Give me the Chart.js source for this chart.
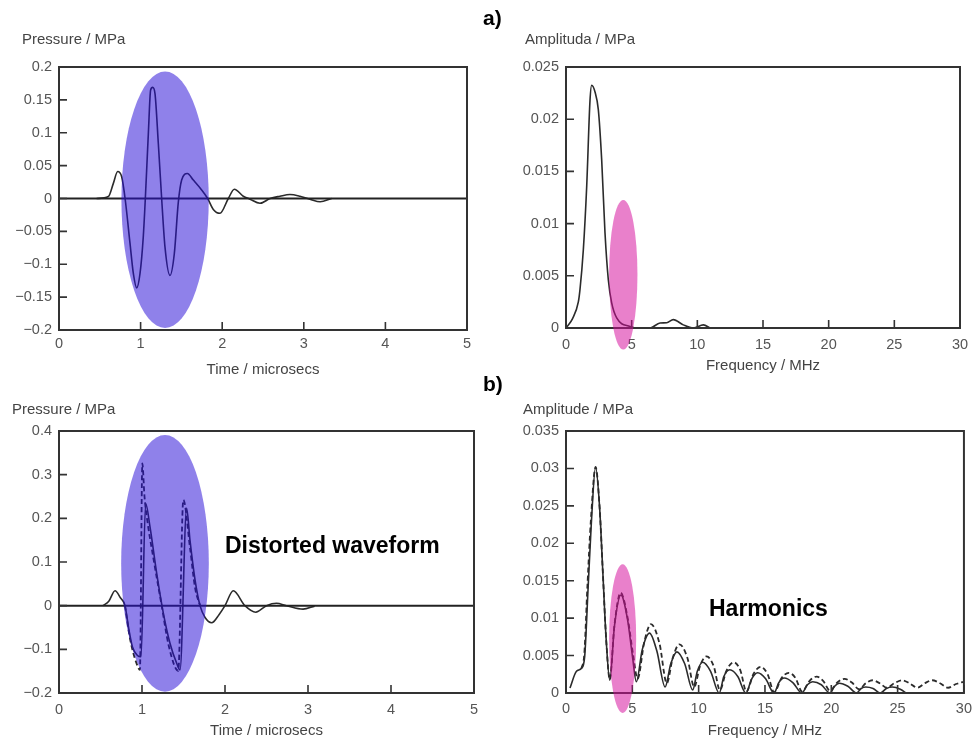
<!DOCTYPE html>
<html>
<head>
<meta charset="utf-8">
<script src="https://cdn.jsdelivr.net/npm/chart.js@4.4.0/dist/chart.umd.min.js"></script>
<style>
  body { margin: 0; background: #fff; width: 979px; height: 744px; position: relative; overflow: hidden;
         font-family: "Liberation Sans", Arial, sans-serif; }
  .panel { position: absolute; }
  .lbl { position: absolute; white-space: nowrap; line-height: 1; }
  .axis-title { font-size: 15px; color: #444; }
  .tag { font-size: 21px; font-weight: bold; color: #000; }
  .note { font-size: 23px; font-weight: bold; color: #000; }
</style>
</head>
<body>

<div class="panel" style="left:0;top:0"><canvas id="TimeA" width="490" height="380"></canvas></div>
<div class="panel" style="left:490px;top:0"><canvas id="FreqA" width="489" height="380"></canvas></div>
<div class="panel" style="left:0;top:380px"><canvas id="TimeB" width="490" height="364"></canvas></div>
<div class="panel" style="left:490px;top:380px"><canvas id="FreqB" width="489" height="364"></canvas></div>

<div class="lbl tag" style="left:483px;top:7px">a)</div>
<div class="lbl tag" style="left:483px;top:373px">b)</div>
<div class="lbl axis-title" style="left:22px;top:31px">Pressure / MPa</div>
<div class="lbl axis-title" style="left:525px;top:31px">Amplituda / MPa</div>
<div class="lbl axis-title" style="left:12px;top:401px">Pressure / MPa</div>
<div class="lbl axis-title" style="left:523px;top:401px">Amplitude / MPa</div>
<div class="lbl note" style="left:225px;top:534px">Distorted waveform</div>
<div class="lbl note" style="left:709px;top:597px">Harmonics</div>

<script>
//
//
// Data - a) linear pulse
var timeA     = [0.46, 0.605, 0.666, 0.719, 0.768, 0.81, 0.87, 0.911, 0.952, 0.993, 1.033, 1.058, 1.095, 1.123, 1.148, 1.176, 1.217, 1.258, 1.299, 1.36, 1.413, 1.462, 1.503, 1.573, 1.646, 1.748, 1.822, 1.891, 1.973, 2.075, 2.149, 2.258, 2.34, 2.463, 2.586, 2.708, 2.83, 2.953, 3.076, 3.2, 3.341];
var pressureA = [0, 0.003, 0.023, 0.041, 0.033, 0, -0.068, -0.114, -0.136, -0.114, -0.058, 0, 0.099, 0.165, 0.169, 0.16, 0.084, 0, -0.074, -0.117, -0.084, -0.006, 0.028, 0.038, 0.028, 0.013, 0, -0.0166, -0.0225, 0, 0.014, 0.0035, -0.001, -0.0073, 0, 0.0035, 0.006, 0.0035, -0.001, -0.005, 0];

var freqA      = [0, 0.5, 0.94, 1.066, 1.32, 1.574, 1.828, 1.955, 2.21, 2.463, 2.717, 2.97, 3.224, 3.478, 3.86, 4.87, 5.6, 6.4, 7.16, 7.67, 8.17, 8.93, 9.7, 10.46, 10.97];
var amplitudeA = [0, 0.0009, 0.0025, 0.0037, 0.0075, 0.0135, 0.0218, 0.02325, 0.0226, 0.0209, 0.0161, 0.0091, 0.0046, 0.0024, 0.00096, 0.00015, 0, 0, 0.00048, 0.0005, 0.0008, 0.0003, 0, 0.0003, 0];

//
//
// Data - b) distorted pulse
var timeB     = [0.53, 0.6, 0.675, 0.74, 0.795, 0.843, 0.884, 0.945, 0.988, 1.044, 1.096, 1.177, 1.257, 1.337, 1.418, 1.458, 1.538, 1.578, 1.639, 1.699, 1.76, 1.84, 1.93, 2.0, 2.1, 2.24, 2.37, 2.5, 2.62, 2.74, 2.94, 3.08];
var pressureB = [0, 0.01, 0.034, 0.018, 0, -0.056, -0.094, -0.114, -0.117, 0.234, 0.181, 0.074, -0.017, -0.086, -0.132, -0.147, 0.223, 0.15, 0.059, 0, -0.027, -0.039, -0.02, 0, 0.034, 0, -0.015, 0, 0.0055, 0, -0.008, -0.001];

var timeBDashed     = [0.795, 0.86, 0.95, 0.975, 1.004, 1.03, 1.06, 1.136, 1.237, 1.32, 1.437, 1.498, 1.58, 1.64, 1.70];
var pressureBDashed = [0, -0.08, -0.14, -0.147, 0.326, 0.25, 0.2, 0.11, 0, -0.09, -0.149, 0.242, 0.13, 0.04, 0];

var freqB      = [0.3, 0.79, 1.17, 1.41, 1.66, 1.91, 2.23, 2.53, 2.78, 3.03, 3.3, 3.65, 4.14, 4.64, 5.01, 5.3, 5.75, 6.3, 6.85, 7.47, 7.9, 8.36, 8.95, 9.55, 9.9, 10.3, 10.9, 11.55, 11.9, 12.35, 12.95, 13.56, 14.0, 14.45, 15.05, 15.68, 16.05, 16.45, 17.1, 17.78, 18.2, 18.6, 19.25, 19.9, 20.25, 20.6, 21.25, 21.9, 22.25, 22.6, 23.15, 23.7, 24.15, 24.6, 25.2, 25.7];
var amplitudeB = [0.00067, 0.0029, 0.0033, 0.0049, 0.0138, 0.0227, 0.0302, 0.0249, 0.016, 0.0071, 0.0017, 0.0089, 0.0131, 0.0098, 0.0049, 0.0015, 0.0058, 0.008, 0.0056, 0.0008, 0.0039, 0.0055, 0.0039, 0.0004, 0.0029, 0.0041, 0.0029, 0, 0.0022, 0.0031, 0.0022, 0, 0.0019, 0.0027, 0.0019, 0, 0.0014, 0.002, 0.0014, 0, 0.0011, 0.0015, 0.0011, 0, 0.0009, 0.0013, 0.0009, 0, 0.0006, 0.0008, 0.0006, 0, 0.0006, 0.0008, 0.0005, -0.0001];

var freqBDashed      = [1.17, 1.38, 1.62, 1.88, 2.23, 2.53, 2.78, 3.03, 3.3, 3.65, 4.12, 4.64, 5.05, 5.4, 5.9, 6.4, 7.05, 7.6, 8.05, 8.55, 9.15, 9.67, 10.1, 10.6, 11.15, 11.6, 12.1, 12.65, 13.15, 13.6, 14.15, 14.68, 15.2, 15.7, 16.25, 16.8, 17.3, 17.8, 18.35, 18.9, 19.4, 19.9, 20.45, 21.0, 21.55, 22.1, 22.6, 23.1, 23.65, 24.2, 24.75, 25.35, 25.9, 26.5, 27.05, 27.6, 28.2, 28.8, 29.4, 30];
var amplitudeBDashed = [0.0033, 0.0052, 0.0145, 0.0232, 0.0302, 0.0249, 0.016, 0.0071, 0.0018, 0.009, 0.0134, 0.0101, 0.0052, 0.0019, 0.0068, 0.0092, 0.0066, 0.0013, 0.0047, 0.0065, 0.0047, 0.0008, 0.0036, 0.0049, 0.0035, 0.0004, 0.003, 0.0041, 0.003, 0.0002, 0.0026, 0.0035, 0.0025, 0.0001, 0.002, 0.0027, 0.002, 0.0002, 0.0016, 0.0022, 0.0016, 0.0003, 0.0014, 0.0019, 0.0014, 0.0005, 0.0013, 0.0017, 0.0013, 0.0007, 0.0013, 0.0017, 0.0013, 0.0007, 0.0013, 0.0017, 0.0013, 0.0007, 0.0012, 0.0015];

//
//
// Axis titles
var timeTitle = 'Time / microsecs';
var freqTitle = 'Frequency / MHz';

function toPoints(xs, ys){
  var pts = [];
  for (var i = 0; i < xs.length; i++){
    pts.push({ x: xs[i], y: ys[i] });
  }
  return pts;
}

function tickLabel(v){
  var n = +Number(v).toFixed(4);
  if (n === 0) return '0';
  return (n < 0 ? '\u2212' : '') + Math.abs(n);
}

//
//
// Frame, inner ticks and highlight ellipse
var framePlugin = {
  id: 'frame',
  defaults: {},
  afterDatasetsDraw: function(chart, args, opts){
    var ctx = chart.ctx;
    var area = chart.chartArea;
    var xs = chart.scales.x;
    var ys = chart.scales.y;

    ctx.save();
    ctx.strokeStyle = '#333';
    ctx.lineWidth = 2;
    ctx.strokeRect(area.left, area.top, area.right - area.left, area.bottom - area.top);

    ctx.lineWidth = 1.6;
    ctx.beginPath();
    xs.ticks.forEach(function(t){
      var px = xs.getPixelForValue(t.value);
      ctx.moveTo(px, area.bottom);
      ctx.lineTo(px, area.bottom - 8);
    });
    ys.ticks.forEach(function(t){
      var py = ys.getPixelForValue(t.value);
      ctx.moveTo(area.left, py);
      ctx.lineTo(area.left + 8, py);
    });
    ctx.stroke();

    var e = opts.ellipse;
    if (e){
      var cx = xs.getPixelForValue(e.x);
      var cy = ys.getPixelForValue(e.y);
      var rx = Math.abs(xs.getPixelForValue(e.x + e.rx) - cx);
      var ry = Math.abs(ys.getPixelForValue(e.y + e.ry) - cy);
      ctx.fillStyle = e.fill;
      ctx.beginPath();
      ctx.ellipse(cx, cy, rx, ry, 0, 0, Math.PI * 2);
      ctx.fill();
    }
    ctx.restore();
  }
};
Chart.register(framePlugin);

//
//
// Draw one panel
function drawPanel(id, setup){
  var ctx = document.getElementById(id).getContext('2d');
  var tickFont = { family: '"Liberation Sans", Arial, sans-serif', size: 14.5 };

  new Chart(ctx, {
    type: 'line',
    data: { datasets: setup.datasets },
    options: {
      responsive: false,
      animation: false,
      layout: { padding: setup.padding },
      plugins: {
        legend: { display: false },
        tooltip: { enabled: false },
        frame: { ellipse: setup.ellipse }
      },
      elements: {
        point: { radius: 0 },
        line: { cubicInterpolationMode: 'monotone', borderColor: '#2b2b2b', borderWidth: 1.6, fill: false }
      },
      scales: {
        x: {
          type: 'linear',
          min: setup.xMin, max: setup.xMax,
          grid: { display: false, drawTicks: false },
          border: { display: false },
          ticks: { stepSize: setup.xStep, color: '#555', font: tickFont, padding: setup.xPad, maxRotation: 0, callback: tickLabel },
          title: { display: true, text: setup.xTitle, color: '#444', font: { family: '"Liberation Sans", Arial, sans-serif', size: 15 }, padding: { top: 0, bottom: setup.titlePad } },
          afterFit: function(scale){ scale.height = setup.xHeight; }
        },
        y: {
          type: 'linear',
          min: setup.yMin, max: setup.yMax,
          grid: { display: false, drawTicks: false },
          border: { display: false },
          ticks: { stepSize: setup.yStep, color: '#555', font: tickFont, padding: 7, callback: tickLabel },
          afterFit: function(scale){ scale.width = setup.yWidth; }
        }
      }
    }
  });
}

//
//
// a) Time
drawPanel('TimeA', {
  datasets: [
    { data: [{ x: 0, y: 0 }, { x: 5, y: 0 }], borderColor: '#222', borderWidth: 2 },
    { data: toPoints(timeA, pressureA) }
  ],
  xMin: 0, xMax: 5, xStep: 1, yMin: -0.2, yMax: 0.2, yStep: 0.05,
  xTitle: timeTitle, xPad: 5, titlePad: 1, xHeight: 50, yWidth: 59,
  padding: { left: 0, top: 67, right: 23, bottom: 0 },
  ellipse: { x: 1.30, y: -0.002, rx: 0.535, ry: 0.195, fill: 'rgba(40, 14, 215, 0.52)' }
});

//
//
// a) Frequency
drawPanel('FreqA', {
  datasets: [
    { data: toPoints(freqA, amplitudeA) }
  ],
  xMin: 0, xMax: 30, xStep: 5, yMin: 0, yMax: 0.025, yStep: 0.005,
  xTitle: freqTitle, xPad: 8, titlePad: 5, xHeight: 52, yWidth: 76,
  padding: { left: 0, top: 67, right: 19, bottom: 0 },
  ellipse: { x: 4.36, y: 0.0051, rx: 1.08, ry: 0.00717, fill: 'rgba(213, 12, 155, 0.52)' }
});

//
//
// b) Time
drawPanel('TimeB', {
  datasets: [
    { data: [{ x: 0, y: 0 }, { x: 5, y: 0 }], borderColor: '#222', borderWidth: 2 },
    { data: toPoints(timeB, pressureB) },
    { data: toPoints(timeBDashed, pressureBDashed), borderDash: [5, 3], borderWidth: 1.8 }
  ],
  xMin: 0, xMax: 5, xStep: 1, yMin: -0.2, yMax: 0.4, yStep: 0.1,
  xTitle: timeTitle, xPad: 8, titlePad: 4, xHeight: 51, yWidth: 59,
  padding: { left: 0, top: 51, right: 16, bottom: 0 },
  ellipse: { x: 1.277, y: 0.097, rx: 0.528, ry: 0.294, fill: 'rgba(40, 14, 215, 0.52)' }
});

//
//
// b) Frequency
drawPanel('FreqB', {
  datasets: [
    { data: toPoints(freqB, amplitudeB) },
    { data: toPoints(freqBDashed, amplitudeBDashed), borderDash: [5, 3], borderWidth: 1.8 }
  ],
  xMin: 0, xMax: 30, xStep: 5, yMin: 0, yMax: 0.035, yStep: 0.005,
  xTitle: freqTitle, xPad: 7, titlePad: 4, xHeight: 51, yWidth: 76,
  padding: { left: 0, top: 51, right: 10, bottom: 0 },
  ellipse: { x: 4.27, y: 0.00726, rx: 1.02, ry: 0.00993, fill: 'rgba(213, 12, 155, 0.52)' }
});
</script>
</body>
</html>
